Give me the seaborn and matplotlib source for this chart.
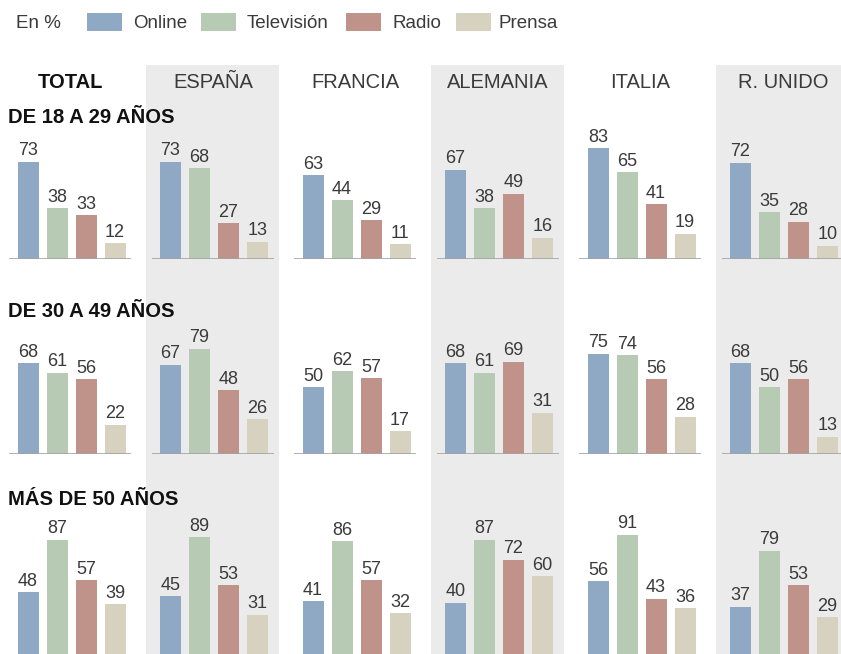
import matplotlib
matplotlib.use("Agg")
import matplotlib.pyplot as plt
from matplotlib.patches import Rectangle
import pandas as pd
import seaborn as sns

# --- data -----------------------------------------------------------------
media = ["Online", "Televisión", "Radio", "Prensa"]
regions = ["TOTAL", "ESPAÑA", "FRANCIA", "ALEMANIA", "ITALIA", "R. UNIDO"]
age_groups = ["DE 18 A 29 AÑOS", "DE 30 A 49 AÑOS", "MÁS DE 50 AÑOS"]

# values per age group: one list of [Online, TV, Radio, Prensa] per region
age_18_29 = [
    [73, 38, 33, 12],
    [73, 68, 27, 13],
    [63, 44, 29, 11],
    [67, 38, 49, 16],
    [83, 65, 41, 19],
    [72, 35, 28, 10],
]
age_30_49 = [
    [68, 61, 56, 22],
    [67, 79, 48, 26],
    [50, 62, 57, 17],
    [68, 61, 69, 31],
    [75, 74, 56, 28],
    [68, 50, 56, 13],
]
age_50_plus = [
    [48, 87, 57, 39],
    [45, 89, 53, 31],
    [41, 86, 57, 32],
    [40, 87, 72, 60],
    [56, 91, 43, 36],
    [37, 79, 53, 29],
]
rows = [age_18_29, age_30_49, age_50_plus]

colors = ["#8fa8c4", "#b7cbb4", "#c0938a", "#d6d2bf"]
palette = dict(zip(media, colors))

# --- figure ---------------------------------------------------------------
W, H = 841, 654
sns.set_style("white")
plt.rcParams["font.family"] = ["Liberation Sans", "DejaVu Sans"]
fig = plt.figure(figsize=(W / 100, H / 100), dpi=100)
fig.patch.set_facecolor("white")

TXT = "#3a3a3a"


def fx(px):
    return px / W


def fy(py):
    return 1 - py / H


# shaded country columns (behind every panel)
for c in (1, 3, 5):
    left = 146 + 142.5 * (c - 1)
    fig.patches.append(
        Rectangle((fx(left), fy(H)), 133 / W, (H - 65) / H,
                  transform=fig.transFigure, facecolor="#ebebeb",
                  edgecolor="none", zorder=-5)
    )

# legend row
fig.text(fx(16), fy(28.3), "En %", fontsize=13.5, color=TXT, va="baseline")
swatch_x = [87, 201, 346, 456]
label_x = [133, 247, 393, 499]
for m, sx, lx in zip(media, swatch_x, label_x):
    fig.patches.append(
        Rectangle((fx(sx), fy(30.7)), 35 / W, 18 / H, transform=fig.transFigure,
                  facecolor=palette[m], edgecolor="none")
    )
    fig.text(fx(lx), fy(28.3), m, fontsize=13.5, color=TXT, va="baseline")

# column headers
for c, name in enumerate(regions):
    cx = 70.5 + 142.5 * c
    fig.text(fx(cx), fy(88), name, fontsize=14.5, color=TXT if c else "#111111",
             ha="center", va="baseline", fontweight="bold" if c == 0 else "normal")

# row titles
title_baselines = [123, 317, 505]
for t, yb in zip(age_groups, title_baselines):
    fig.text(fx(8), fy(yb), t, fontsize=14.6, color="#111111",
             fontweight="bold", va="baseline")

# bar panels
baselines = [259, 454, 656]
px_per_unit = 1.335
ax_h = 100 * px_per_unit
for r, row in enumerate(rows):
    for c, vals in enumerate(row):
        left = 9 + 142.5 * c
        ax = fig.add_axes([fx(left), fy(baselines[r]), 122 / W, ax_h / H])
        ax.set_facecolor("none")
        df = pd.DataFrame({"medio": media, "valor": vals})
        sns.barplot(data=df, x="medio", y="valor", hue="medio", order=media,
                    hue_order=media, palette=palette, width=0.724,
                    saturation=1, errorbar=None, legend=False, ax=ax,
                    linewidth=0, edgecolor="none")
        for p, v in zip(ax.patches, vals):
            xc = p.get_x() + p.get_width() / 2
            ax.annotate(str(v), (xc, p.get_height()), xytext=(0, 4.6),
                        textcoords="offset points", ha="center",
                        va="baseline", fontsize=13, color=TXT,
                        annotation_clip=False)
        ax.axhline(0, color="#a3a3a3", lw=1.2, zorder=4)
        ax.set_xlim(-0.655, 3.55)
        ax.set_ylim(0, 100)
        ax.set_xlabel("")
        ax.set_ylabel("")
        ax.set_xticks([])
        ax.set_yticks([])
        sns.despine(ax=ax, left=True, bottom=True)

fig.savefig("out.png", dpi=100, facecolor="white")
